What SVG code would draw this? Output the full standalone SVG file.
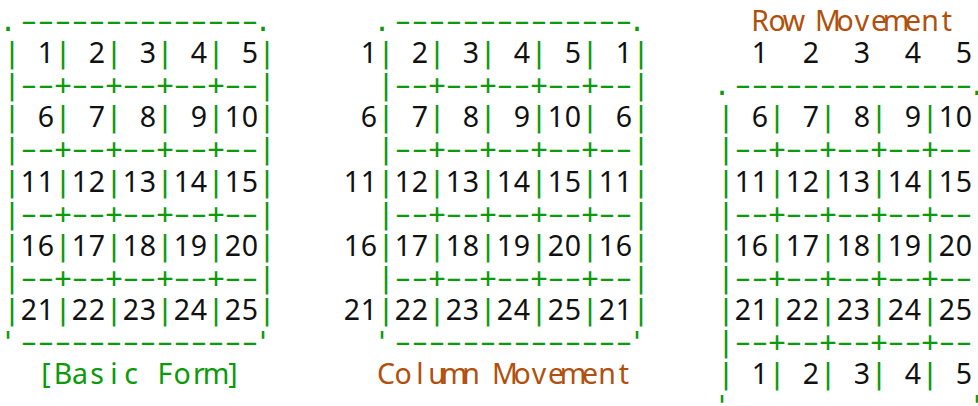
<svg xmlns="http://www.w3.org/2000/svg" width="978" height="406" viewBox="0 0 978 406">
<style>
.g{font-family:"DejaVu Sans Mono","Liberation Mono",monospace;font-size:28.24px;fill:#0a9a0a;text-anchor:middle}
.d{font-family:"DejaVu Sans Mono","Liberation Mono",monospace;font-size:28.24px;fill:#0a9a0a;text-anchor:middle}
.n{font-family:"Noto Sans","Roboto","DejaVu Sans",sans-serif;font-size:28.5px;fill:#111;text-anchor:middle}
.lg{font-family:"Noto Sans","Roboto","DejaVu Sans",sans-serif;font-size:28.5px;fill:#0a9a0a;text-anchor:middle}
.lo{font-family:"Noto Sans","Roboto","DejaVu Sans",sans-serif;font-size:28.5px;fill:#b0500c;text-anchor:middle}
</style>
<rect width="978" height="406" fill="#fff"/>
<g id="basic-form">
<text class="g"><tspan x="8 263" y="31">..</tspan><tspan x="12 63 114 165 216 267" y="63.1">||||||</tspan><tspan x="12 63 114 165 216 267" y="95.2">|++++|</tspan><tspan x="12 63 114 165 216 267" y="127.3">||||||</tspan><tspan x="12 63 114 165 216 267" y="159.4">|++++|</tspan><tspan x="12 63 114 165 216 267" y="191.5">||||||</tspan><tspan x="12 63 114 165 216 267" y="223.6">|++++|</tspan><tspan x="12 63 114 165 216 267" y="255.7">||||||</tspan><tspan x="12 63 114 165 216 267" y="287.8">|++++|</tspan><tspan x="12 63 114 165 216 267" y="319.9">||||||</tspan><tspan x="8 263" y="352">''</tspan></text>
<text class="d" transform="translate(12 0) scale(1.7 1)"><tspan x="10 20 30 40 50 60 70 80 90 100 110 120 130 140" y="31">--------------</tspan><tspan x="10 20 40 50 70 80 100 110 130 140" y="95.2">----------</tspan><tspan x="10 20 40 50 70 80 100 110 130 140" y="159.4">----------</tspan><tspan x="10 20 40 50 70 80 100 110 130 140" y="223.6">----------</tspan><tspan x="10 20 40 50 70 80 100 110 130 140" y="287.8">----------</tspan><tspan x="10 20 30 40 50 60 70 80 90 100 110 120 130 140" y="352">--------------</tspan></text>
<text class="n" x="46 97 148 199 250" y="63.1">12345</text>
<text class="n" x="46 97 148 199 233 250" y="127.3">678910</text>
<text class="n" x="29 46 80 97 131 148 182 199 233 250" y="191.5">1112131415</text>
<text class="n" x="29 46 80 97 131 148 182 199 233 250" y="255.7">1617181920</text>
<text class="n" x="29 46 80 97 131 148 182 199 233 250" y="319.9">2122232425</text>
<text class="lg" x="46 63 80 97 114 131 148 165 182 199 216 233" y="384.1">[Basic Form]</text>
</g>
<g id="column-movement">
<text class="g"><tspan x="382 637" y="31">..</tspan><tspan x="386 437 488 539 590 641" y="63.1">||||||</tspan><tspan x="386 437 488 539 590 641" y="95.2">|++++|</tspan><tspan x="386 437 488 539 590 641" y="127.3">||||||</tspan><tspan x="386 437 488 539 590 641" y="159.4">|++++|</tspan><tspan x="386 437 488 539 590 641" y="191.5">||||||</tspan><tspan x="386 437 488 539 590 641" y="223.6">|++++|</tspan><tspan x="386 437 488 539 590 641" y="255.7">||||||</tspan><tspan x="386 437 488 539 590 641" y="287.8">|++++|</tspan><tspan x="386 437 488 539 590 641" y="319.9">||||||</tspan><tspan x="382 637" y="352">''</tspan></text>
<text class="d" transform="translate(386 0) scale(1.7 1)"><tspan x="10 20 30 40 50 60 70 80 90 100 110 120 130 140" y="31">--------------</tspan><tspan x="10 20 40 50 70 80 100 110 130 140" y="95.2">----------</tspan><tspan x="10 20 40 50 70 80 100 110 130 140" y="159.4">----------</tspan><tspan x="10 20 40 50 70 80 100 110 130 140" y="223.6">----------</tspan><tspan x="10 20 40 50 70 80 100 110 130 140" y="287.8">----------</tspan><tspan x="10 20 30 40 50 60 70 80 90 100 110 120 130 140" y="352">--------------</tspan></text>
<text class="n" x="369 420 471 522 573 624" y="63.1">123451</text>
<text class="n" x="369 420 471 522 556 573 624" y="127.3">6789106</text>
<text class="n" x="352 369 403 420 454 471 505 522 556 573 607 624" y="191.5">111213141511</text>
<text class="n" x="352 369 403 420 454 471 505 522 556 573 607 624" y="255.7">161718192016</text>
<text class="n" x="352 369 403 420 454 471 505 522 556 573 607 624" y="319.9">212223242521</text>
<text class="lo" x="386 403 420 437 454 471 488 505 522 539 556 573 590 607 624" y="384.1">Column Movement</text>
</g>
<g id="row-movement">
<text class="lo" x="760 777 794 811 828 845 862 879 896 913 930 947" y="31">Row Movement</text>
<text class="n" x="760 811 862 913 964" y="63.1">12345</text>
<text class="g"><tspan x="722 977" y="95.2">..</tspan><tspan x="726 777 828 879 930 981" y="127.3">||||||</tspan><tspan x="726 777 828 879 930 981" y="159.4">|++++|</tspan><tspan x="726 777 828 879 930 981" y="191.5">||||||</tspan><tspan x="726 777 828 879 930 981" y="223.6">|++++|</tspan><tspan x="726 777 828 879 930 981" y="255.7">||||||</tspan><tspan x="726 777 828 879 930 981" y="287.8">|++++|</tspan><tspan x="726 777 828 879 930 981" y="319.9">||||||</tspan><tspan x="726 777 828 879 930 981" y="352">|++++|</tspan><tspan x="726 777 828 879 930 981" y="384.1">||||||</tspan><tspan x="722 977" y="416.2">''</tspan></text>
<text class="d" transform="translate(726 0) scale(1.7 1)"><tspan x="10 20 30 40 50 60 70 80 90 100 110 120 130 140" y="95.2">--------------</tspan><tspan x="10 20 40 50 70 80 100 110 130 140" y="159.4">----------</tspan><tspan x="10 20 40 50 70 80 100 110 130 140" y="223.6">----------</tspan><tspan x="10 20 40 50 70 80 100 110 130 140" y="287.8">----------</tspan><tspan x="10 20 40 50 70 80 100 110 130 140" y="352">----------</tspan></text>
<text class="n" x="760 811 862 913 947 964" y="127.3">678910</text>
<text class="n" x="743 760 794 811 845 862 896 913 947 964" y="191.5">1112131415</text>
<text class="n" x="743 760 794 811 845 862 896 913 947 964" y="255.7">1617181920</text>
<text class="n" x="743 760 794 811 845 862 896 913 947 964" y="319.9">2122232425</text>
<text class="n" x="760 811 862 913 964" y="384.1">12345</text>
</g>
</svg>
